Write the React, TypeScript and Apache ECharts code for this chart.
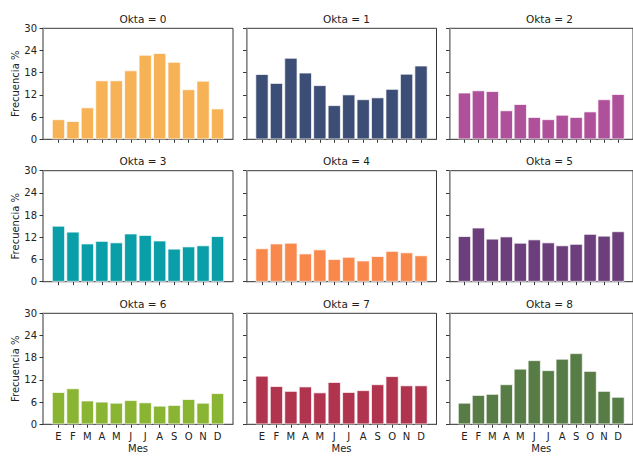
import React, { useEffect, useRef } from "react";
import * as echarts from "echarts";

const months = ["E", "F", "M", "A", "M", "J", "J", "A", "S", "O", "N", "D"];
const yTicks = [0, 6, 12, 18, 24, 30];
const oktas = [0, 1, 2, 3, 4, 5, 6, 7, 8];

const okta0 = [5.4, 4.9, 8.6, 15.9, 15.9, 18.6, 22.8, 23.3, 20.9, 13.5, 15.8, 8.3];
const okta1 = [17.6, 15.2, 22.0, 18.0, 14.6, 9.2, 12.1, 10.8, 11.3, 13.6, 17.7, 19.9];
const okta2 = [12.6, 13.2, 13.0, 7.8, 9.5, 6.0, 5.4, 6.6, 6.0, 7.5, 10.8, 12.2];
const okta3 = [15.1, 13.5, 10.3, 11.0, 10.6, 13.0, 12.6, 11.1, 8.9, 9.5, 9.8, 12.3];
const okta4 = [9.0, 10.3, 10.5, 7.6, 8.7, 6.1, 6.7, 5.7, 6.9, 8.3, 7.9, 7.1];
const okta5 = [12.3, 14.6, 11.6, 12.2, 10.5, 11.4, 10.6, 9.8, 10.2, 12.9, 12.4, 13.6];
const okta6 = [8.7, 9.7, 6.4, 6.1, 5.8, 6.5, 5.9, 5.0, 5.2, 6.8, 5.8, 8.4];
const okta7 = [13.1, 10.3, 9.0, 10.2, 8.6, 11.4, 8.7, 9.2, 10.8, 13.0, 10.5, 10.5];
const okta8 = [5.8, 7.9, 8.2, 10.8, 15.0, 17.3, 14.6, 17.7, 19.2, 14.4, 9.0, 7.4];

const seriesValues = [okta0, okta1, okta2, okta3, okta4, okta5, okta6, okta7, okta8];
const colors = [
  "#F7B256", "#3C4D76", "#AF509A", "#0A9EA8", "#F9884C",
  "#6C3E7B", "#8AB532", "#B1344F", "#587C46",
];

const FONT = "DejaVu Sans";
const colLeft = [43, 246.5, 449.5];
const rowTop = [28.3, 170.7, 313.3];
const W = 190;
const H = 111;

export default function App() {
  const ref = useRef<HTMLDivElement>(null);
  useEffect(() => {
    if (!ref.current) return;
    const chart = echarts.init(ref.current, null, { renderer: "svg" });
    const grids: any[] = [];
    const xAxes: any[] = [];
    const yAxes: any[] = [];
    const series: any[] = [];
    const titles: any[] = [];
    oktas.forEach((k, i) => {
      const r = Math.floor(i / 3);
      const c = i % 3;
      grids.push({
        left: colLeft[c],
        top: rowTop[r],
        width: W,
        height: H,
        show: true,
        borderColor: "#222",
        borderWidth: 0.9,
        backgroundColor: "transparent",
      });
      xAxes.push({
        type: "value",
        gridIndex: i,
        min: -1.07,
        max: 12.07,
        splitLine: { show: false },
        axisLine: { show: true, onZero: false, lineStyle: { color: "#555", width: 1.1 } },
        axisTick: {
          show: true,
          length: 3.5,
          lineStyle: { color: "#222", width: 0.9 },
          customValues: months.map((_, j) => j),
        },
        axisLabel: {
          show: r === 2,
          customValues: months.map((_, j) => j),
          formatter: (v: number) => months[Math.round(v)] ?? "",
          fontFamily: FONT,
          fontSize: 10,
          color: "#222",
          margin: 7,
        },
        name: r === 2 ? "Mes" : "",
        nameLocation: "middle",
        nameGap: 19,
        nameTextStyle: { fontFamily: FONT, fontSize: 10, color: "#222", verticalAlign: "top" },
      });
      yAxes.push({
        type: "value",
        gridIndex: i,
        min: 0,
        max: 30,
        interval: 6,
        splitLine: { show: false },
        axisLine: { show: true, onZero: false, lineStyle: { color: "#999", width: 1.6 } },
        axisTick: { show: true, length: 3.5, lineStyle: { color: "#222", width: 0.9 } },
        axisLabel: {
          show: c === 0,
          fontFamily: FONT,
          fontSize: 10,
          color: "#222",
          margin: 6,
          formatter: (v: number) => (yTicks.includes(v) ? String(v) : ""),
        },
        name: c === 0 ? "Frecuencia %" : "",
        nameLocation: "middle",
        nameGap: 23,
        nameTextStyle: { fontFamily: FONT, fontSize: 10, color: "#222" },
      });
      series.push({
        type: "bar",
        xAxisIndex: i,
        yAxisIndex: i,
        barWidth: 13,
        data: seriesValues[i].map((v, j) => [j, v]),
        itemStyle: { color: colors[i], borderColor: "#ffffff", borderWidth: 0.7 },
      });
      titles.push({
        text: `Okta = ${k}`,
        left: colLeft[c] + W / 2,
        top: rowTop[r] - 20,
        textAlign: "center",
        textStyle: { fontFamily: FONT, fontSize: 10.5, fontWeight: "normal", color: "#222" },
      });
    });
    chart.setOption({
      animation: false,
      backgroundColor: "#ffffff",
      title: titles,
      grid: grids,
      xAxis: xAxes,
      yAxis: yAxes,
      series,
    });
    return () => chart.dispose();
  }, []);
  return <div ref={ref} style={{ width: 633, height: 456, position: "absolute", left: 0, top: 0 }} />;
}
